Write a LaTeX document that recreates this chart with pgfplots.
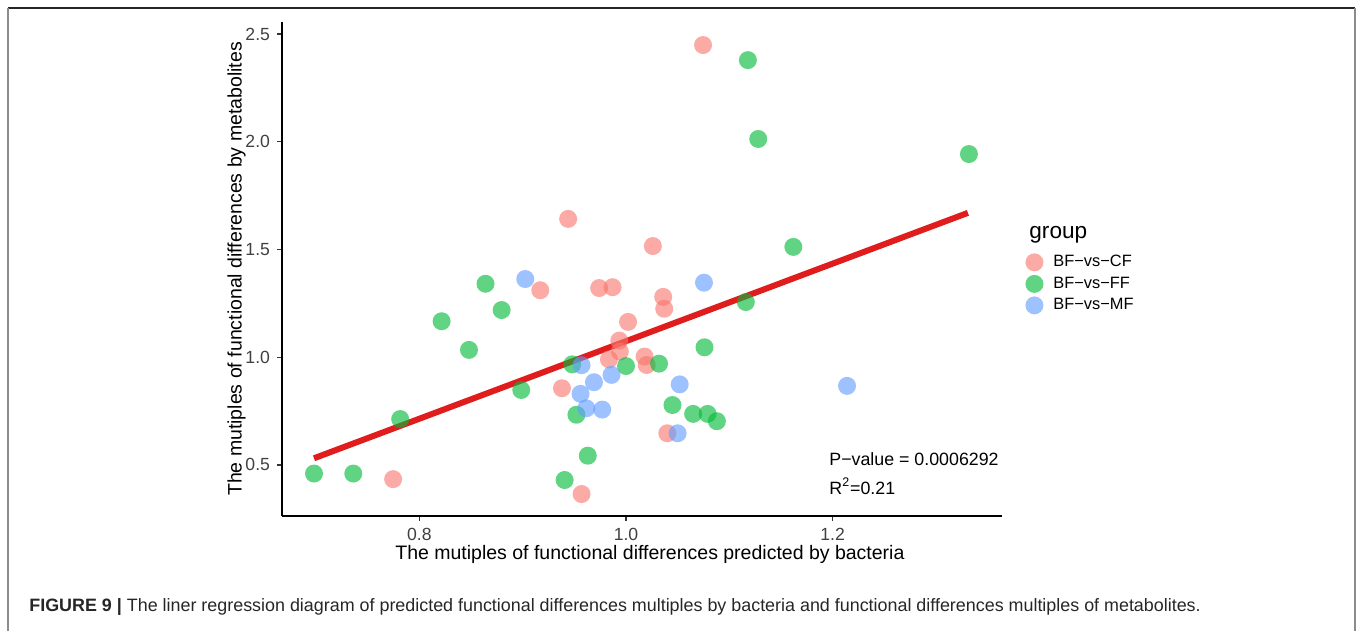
\documentclass[border=0pt]{standalone}
\usepackage{pgfplots}
\pgfplotsset{compat=1.18}
\usepackage{pgfplotstable}
\usepackage{fontspec}
\setmainfont{Liberation Sans}

\definecolor{cf}{HTML}{F8766D}
\definecolor{ff}{HTML}{00BA38}
\definecolor{mf}{HTML}{619CFF}
\definecolor{fitred}{RGB}{224,28,28}

% BF-vs-CF
\pgfplotstableread{
x y
1.0746 2.449
0.944 1.642
1.026 1.516
0.917 1.311
0.974 1.321
0.987 1.325
1.036 1.280
1.037 1.225
1.002 1.164
0.9935 1.077
0.994 1.026
0.9835 0.990
1.018 1.003
1.020 0.964
0.938 0.856
1.040 0.647
0.7746 0.434
0.957 0.365
}\cftab

% BF-vs-FF
\pgfplotstableread{
x y
1.118 2.379
1.128 2.013
1.332 1.943
1.162 1.512
0.864 1.341
0.8796 1.219
0.8215 1.167
1.116 1.256
0.848 1.034
1.076 1.046
0.948 0.967
1.000 0.959
1.032 0.970
0.8986 0.848
0.952 0.733
1.045 0.778
1.065 0.737
1.079 0.737
1.088 0.703
0.7814 0.713
0.963 0.543
0.698 0.460
0.736 0.460
0.9406 0.430
}\fftab

% BF-vs-MF
\pgfplotstableread{
x y
0.9025 1.363
1.0755 1.346
0.957 0.963
0.986 0.918
0.969 0.884
1.052 0.874
0.956 0.830
0.9616 0.763
0.977 0.757
1.050 0.647
1.214 0.867
}\mftab

\begin{document}
\begin{tikzpicture}
\path[use as bounding box] (0,0) rectangle (680pt,315.5pt);

\begin{axis}[
    at={(141pt,57.5pt)}, anchor=south west,
    scale only axis, width=360pt, height=247pt,
    xmin=0.667, xmax=1.364, ymin=0.263, ymax=2.556,
    axis x line*=bottom, axis y line*=left,
    axis line style={line width=0.7pt, black},
    tick align=outside, major tick length=2.5pt,
    tick style={line width=0.6pt, black!80},
    xtick={0.8,1.0,1.2}, ytick={0.5,1.0,1.5,2.0,2.5},
    /pgf/number format/.cd, fixed, fixed zerofill, precision=1, assume math mode=true,
    /pgfplots/.cd,
    ticklabel style={font=\fontsize{8.8}{9}\selectfont, text=black!75},
    xlabel={The mutiples of functional differences predicted by bacteria},
    ylabel={The mutiples of functional differences by metabolites},
    xlabel style={font=\fontsize{9.75}{11}\selectfont, at={(axis description cs:0.511,-0.077)}, anchor=center},
    ylabel style={font=\fontsize{9.75}{11}\selectfont, at={(axis description cs:-0.063,0.5)}, anchor=center},
    legend style={at={(rel axis cs:1.032,0.537)}, anchor=north west, draw=none, fill=none,
        font=\fontsize{8.2}{9}\selectfont, row sep=-0.4pt, inner sep=0pt,
        /tikz/every even column/.append style={column sep=0pt}},
    legend cell align=left,
    legend image code/.code={\draw[#1] plot coordinates {(4.5pt,0pt)};},
]
\addplot[only marks, mark=*, mark size=4.5pt, mark options={cf, fill opacity=0.62, draw opacity=0}] table[x=x,y=y] {\cftab};
\addlegendentry{\hspace{3pt}BF−vs−CF}
\addplot[only marks, mark=*, mark size=4.5pt, mark options={ff, fill opacity=0.62, draw opacity=0}] table[x=x,y=y] {\fftab};
\addlegendentry{\hspace{3pt}BF−vs−FF}
\addplot[only marks, mark=*, mark size=4.5pt, mark options={mf, fill opacity=0.62, draw opacity=0}] table[x=x,y=y] {\mftab};
\addlegendentry{\hspace{3pt}BF−vs−MF}
\addplot[forget plot, fitred, line width=3pt] coordinates {(0.698,0.531) (1.331,1.670)};
\end{axis}

\begin{scope}[x=0.5pt, y=-0.5pt, yshift=315.5pt]
  % figure frame
  \draw[black!85, line width=1pt] (8,8) -- (1355,8);
  \draw[black!45, line width=1pt] (8,8) -- (8,631);
  \draw[black!45, line width=1pt] (1355,8) -- (1355,631);
  % annotations
  \node[anchor=west, inner sep=0pt, font=\fontsize{8.9}{10}\selectfont] at (829,459) {P−value = 0.0006292};
  \node[anchor=west, inner sep=0pt, font=\fontsize{8.9}{10}\selectfont] at (829,486) {R\textsuperscript{2}=0.21};
  % legend title
  \node[anchor=base west, inner sep=0pt, font=\fontsize{11.3}{12}\selectfont] at (1029,239) {group};
  % caption
  \node[anchor=base west, inner sep=0pt, text=black!85, font=\fontsize{8.95}{10}\selectfont] at (29,612)
    {\textbf{FIGURE 9 |} The liner regression diagram of predicted functional differences multiples by bacteria and functional differences multiples of metabolites.};
\end{scope}
\end{tikzpicture}
\end{document}
